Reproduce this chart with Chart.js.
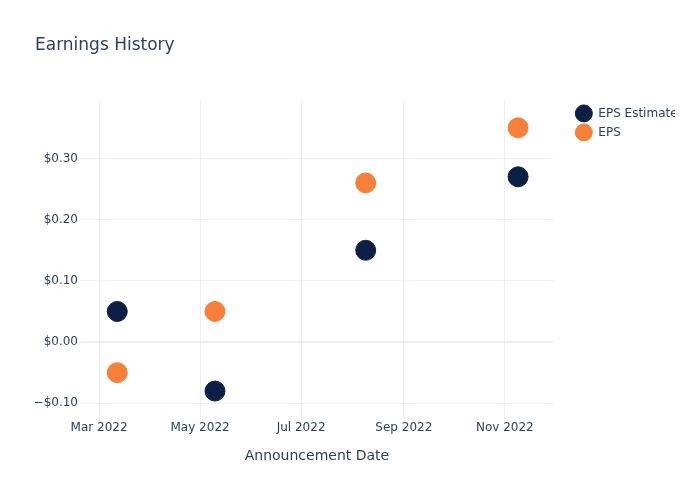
<!DOCTYPE html>
<html>
<head>
<meta charset="utf-8">
<script src="https://cdn.jsdelivr.net/npm/chart.js@4.4.1/dist/chart.umd.min.js"></script>
<style>
  html, body { margin: 0; padding: 0; background: #fff; overflow: hidden; }
  canvas { display: block; }
</style>
</head>
<body>
<canvas id="chart" width="700" height="500"></canvas>
<script>
const estimateDates = ['2022-03-12', '2022-05-10', '2022-08-09', '2022-11-09'];
const estimateValues = [0.05, -0.08, 0.15, 0.27];
const epsDates = ['2022-03-12', '2022-05-10', '2022-08-09', '2022-11-09'];
const epsValues = [-0.05, 0.05, 0.26, 0.35];

const xTickDates = ['2022-03-01', '2022-05-01', '2022-07-01', '2022-09-01', '2022-11-01'];
const xTickLabels = ['Mar 2022', 'May 2022', 'Jul 2022', 'Sep 2022', 'Nov 2022'];
const yTickValues = [-0.1, 0, 0.1, 0.2, 0.3];

const textColor = '#2a3f5f';
const gridColor = '#ebf0f8';
const font = 'DejaVu Sans';

function toPoints(dates, values) {
  return dates.map((d, i) => ({ x: Date.parse(d), y: values[i] }));
}

function money(v) {
  const s = '$' + Math.abs(v).toFixed(2);
  return v < 0 ? '\u2212' + s : s;
}

const ctx = document.getElementById('chart');
new Chart(ctx, {
  type: 'scatter',
  data: {
    datasets: [
      {
        label: 'EPS Estimate',
        data: toPoints(estimateDates, estimateValues),
        backgroundColor: '#0c1f44',
        borderColor: '#0c1f44',
        pointRadius: 10,
        pointHoverRadius: 10
      },
      {
        label: 'EPS',
        data: toPoints(epsDates, epsValues),
        backgroundColor: '#f6803a',
        borderColor: '#f6803a',
        pointRadius: 10,
        pointHoverRadius: 10
      }
    ]
  },
  options: {
    responsive: false,
    animation: false,
    layout: { padding: { left: 35, right: 25, top: 0, bottom: 0 } },
    plugins: {
      title: {
        display: true,
        text: 'Earnings History',
        align: 'start',
        color: textColor,
        font: { family: font, size: 17, weight: 'normal' },
        padding: { top: 35, bottom: 45 }
      },
      legend: {
        position: 'right',
        align: 'start',
        fullSize: false,
        labels: {
          usePointStyle: true,
          pointStyle: 'circle',
          pointStyleWidth: 17,
          padding: 7,
          color: textColor,
          font: { family: font, size: 12 }
        }
      },
      tooltip: { enabled: false }
    },
    scales: {
      x: {
        type: 'linear',
        min: Date.parse('2022-02-17T12:00:00Z'),
        max: Date.parse('2022-11-30T14:00:00Z'),
        afterBuildTicks: s => { s.ticks = xTickDates.map(d => ({ value: Date.parse(d) })); },
        afterFit: s => { s.height = 80; },
        ticks: {
          callback: (v, i) => xTickLabels[i],
          color: textColor,
          font: { family: font, size: 12 },
          padding: 1,
          maxRotation: 0
        },
        grid: { color: gridColor, drawTicks: false },
        border: { display: false },
        title: {
          display: true,
          text: 'Announcement Date',
          color: textColor,
          font: { family: font, size: 14 },
          padding: { top: 0, bottom: 35 }
        }
      },
      y: {
        min: -0.1273,
        max: 0.3948,
        afterBuildTicks: s => { s.ticks = yTickValues.map(v => ({ value: v })); },
        afterFit: s => { s.width = 45; },
        ticks: {
          callback: v => money(v),
          color: textColor,
          font: { family: font, size: 12 },
          padding: 2
        },
        grid: {
          color: gridColor,
          lineWidth: c => (c.tick && c.tick.value === 0 ? 2 : 1),
          drawTicks: false
        },
        border: { display: false }
      },
      spacer: {
        position: 'right',
        display: true,
        afterFit: s => { s.width = 14.5; },
        ticks: { display: false },
        grid: { display: false },
        border: { display: false }
      }
    }
  }
});
</script>
</body>
</html>
